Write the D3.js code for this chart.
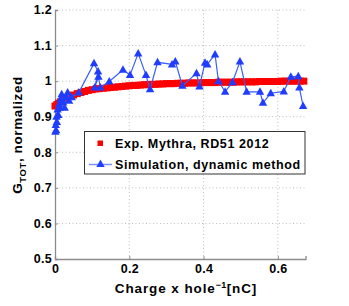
<!DOCTYPE html>
<html>
<head>
<meta charset="utf-8">
<script src="https://cdn.jsdelivr.net/npm/d3@7"></script>
<style>
  body { margin: 0; background: #fff; }
  text { font-family: "Liberation Sans", Arial, sans-serif; font-weight: bold; fill: #000; }
</style>
</head>
<body>
<div id="chart"></div>
<script>
let WIDTH = 349;
let HEIGHT = 306;

// experimental points (red squares)
const expX = [0, 0.005, 0.01, 0.015, 0.02, 0.025, 0.03, 0.04, 0.05, 0.06, 0.07, 0.08, 0.09,
  0.10, 0.11, 0.12, 0.13, 0.14, 0.15, 0.16, 0.17, 0.18, 0.19, 0.20, 0.21, 0.22, 0.23, 0.24,
  0.25, 0.26, 0.27, 0.28, 0.29, 0.30, 0.31, 0.32, 0.33, 0.34, 0.35, 0.36, 0.37, 0.38, 0.39,
  0.40, 0.41, 0.42, 0.43, 0.44, 0.45, 0.46, 0.47, 0.48, 0.49, 0.50, 0.51, 0.52, 0.53, 0.54,
  0.55, 0.56, 0.57, 0.58, 0.59, 0.60, 0.61, 0.62, 0.63, 0.64, 0.65, 0.66, 0.67];
const expY = [0.930, 0.934, 0.938, 0.942, 0.946, 0.949, 0.952, 0.957, 0.961, 0.965, 0.968, 0.971, 0.974,
  0.976, 0.978, 0.979, 0.980, 0.981, 0.982, 0.983, 0.984, 0.985, 0.986, 0.987, 0.988, 0.988, 0.989, 0.990,
  0.990, 0.991, 0.991, 0.992, 0.992, 0.993, 0.993, 0.993, 0.994, 0.994, 0.994, 0.995, 0.995, 0.995, 0.995,
  0.996, 0.996, 0.996, 0.996, 0.997, 0.997, 0.997, 0.997, 0.997, 0.998, 0.998, 0.998, 0.998, 0.998, 0.998,
  0.999, 0.999, 0.999, 0.999, 0.999, 0.999, 1.000, 1.000, 1.000, 1.000, 1.000, 1.000, 1.000];

// simulation (blue triangles)
const simX = [0.001, 0.002, 0.003, 0.004, 0.005, 0.007, 0.009, 0.011, 0.013, 0.015, 0.018, 0.022,
  0.026, 0.030, 0.034, 0.038, 0.045, 0.064, 0.105, 0.116, 0.107, 0.117, 0.122, 0.146, 0.183,
  0.202, 0.224, 0.245, 0.256, 0.276, 0.315, 0.324, 0.343, 0.381, 0.389, 0.404, 0.410, 0.431,
  0.440, 0.458, 0.478, 0.498, 0.516, 0.552, 0.560, 0.581, 0.616, 0.635, 0.655, 0.658, 0.668];
const simY = [0.858, 0.877, 0.862, 0.900, 0.885, 0.920, 0.905, 0.935, 0.925, 0.950, 0.963, 0.940,
  0.925, 0.955, 0.968, 0.945, 0.955, 0.968, 1.050, 1.027, 0.982, 1.012, 0.982, 0.999, 1.032,
  1.017, 1.078, 1.017, 0.977, 1.053, 1.047, 1.055, 0.987, 1.022, 0.985, 1.052, 1.047, 1.075,
  1.000, 0.970, 0.997, 1.055, 0.970, 0.970, 0.939, 0.966, 0.971, 1.012, 1.014, 0.982, 0.930];

const xTicks = [0, 0.2, 0.4, 0.6];
const yTicks = [0.5, 0.6, 0.7, 0.8, 0.9, 1, 1.1, 1.2];
const seriesNames = ['Exp. Mythra, RD51 2012', 'Simulation, dynamic method'];

const expData = expX.map((x, i) => ({x: x, y: expY[i]}));
const simData = simX.map((x, i) => ({x: x, y: simY[i]}));

const SVG = d3.select('#chart').append('svg')
        .attr('width', WIDTH).attr('height', HEIGHT);

const P_LEFT = 55, P_TOP = 10, P_RIGHT = 305.5, P_BOTTOM = 259;

const scale_x = d3.scaleLinear().domain([0, 0.6745]).range([P_LEFT, P_RIGHT]);
const scale_y = d3.scaleLinear().domain([0.5, 1.2]).range([P_BOTTOM, P_TOP]);

// GRID PUNTEADO
SVG.append('g').selectAll('line').data(yTicks.filter(d => d > 0.5)).join('line')
    .attr('x1', P_LEFT).attr('x2', P_RIGHT)
    .attr('y1', d => scale_y(d)).attr('y2', d => scale_y(d))
    .attr('stroke', '#bdbdbd').attr('stroke-width', 1).attr('stroke-dasharray', '1,2.5');
SVG.append('g').selectAll('line').data(xTicks.filter(d => d > 0)).join('line')
    .attr('y1', P_TOP).attr('y2', P_BOTTOM)
    .attr('x1', d => scale_x(d)).attr('x2', d => scale_x(d))
    .attr('stroke', '#bdbdbd').attr('stroke-width', 1).attr('stroke-dasharray', '1,2.5');

// EJES
let g_xaxis = SVG.append('g').attr('transform', `translate(0, ${P_BOTTOM})`)
    .call(d3.axisBottom(scale_x).tickValues(xTicks).tickSize(-3).tickPadding(6)
        .tickFormat(d => d === 0 ? '0' : d3.format('.1f')(d)));
let g_yaxis = SVG.append('g').attr('transform', `translate(${P_LEFT}, 0)`)
    .call(d3.axisLeft(scale_y).tickValues(yTicks).tickSize(-3).tickPadding(3)
        .tickFormat(d => d === 1 ? '1' : d3.format('.1f')(d)));

[g_xaxis, g_yaxis].forEach(g => {
    g.select('.domain').attr('stroke', '#8c8c8c').attr('stroke-width', 1.3);
    g.selectAll('.tick line').attr('stroke', '#8c8c8c');
    g.selectAll('.tick text').attr('font-size', 12.5).attr('font-weight', 'bold')
        .attr('letter-spacing', 0.3)
        .attr('font-family', '"Liberation Sans", Arial, sans-serif').attr('fill', '#000');
});
g_xaxis.selectAll('.tick text').attr('dy', '0.6em');
g_yaxis.selectAll('.tick text').attr('dy', '0.3em');

// DATOS EXPERIMENTALES
const sq = 7;
SVG.append('g').selectAll('rect').data(expData).join('rect')
    .attr('x', d => scale_x(d.x) - sq / 2).attr('y', d => scale_y(d.y) - sq / 2)
    .attr('width', sq).attr('height', sq).attr('fill', '#ff0000');

// SIMULACION
const line = d3.line().x(d => scale_x(d.x)).y(d => scale_y(d.y));
SVG.append('path').datum(simData).attr('d', line)
    .attr('fill', 'none').attr('stroke', '#3a5cff').attr('stroke-width', 1.2);

const tri = (cx, cy) => `M${cx},${cy - 4.5}L${cx + 4.2},${cy + 3}L${cx - 4.2},${cy + 3}Z`;
SVG.append('g').selectAll('path').data(simData).join('path')
    .attr('d', d => tri(scale_x(d.x), scale_y(d.y)))
    .attr('fill', '#1f3dff');

// LEYENDA
let g_legend = SVG.append('g');
g_legend.append('rect').attr('x', 84.5).attr('y', 131.5).attr('width', 220.5).attr('height', 42.5)
    .attr('fill', '#fff').attr('stroke', '#333').attr('stroke-width', 1);
g_legend.append('rect').attr('x', 97.5).attr('y', 140.5).attr('width', 5.5).attr('height', 5.5)
    .attr('fill', '#ff0000');
g_legend.append('line').attr('x1', 89).attr('x2', 112).attr('y1', 164.5).attr('y2', 164.5)
    .attr('stroke', '#7d8fff').attr('stroke-width', 1.5);
g_legend.append('path').attr('d', tri(100.5, 164)).attr('fill', '#1f3dff');
g_legend.selectAll('text.lg').data(seriesNames).join('text').attr('class', 'lg')
    .attr('x', 115).attr('y', (d, i) => 148 + i * 20.5)
    .attr('font-size', 12.5).attr('letter-spacing', 0.6).text(d => d);

// TITULOS DE EJES
let xl = SVG.append('text').attr('x', 186).attr('y', 293).attr('text-anchor', 'middle')
    .attr('font-size', 13.5).attr('letter-spacing', 0.9);
xl.append('tspan').text('Charge x hole');
xl.append('tspan').attr('dy', -5).attr('font-size', 9).attr('letter-spacing', 0.3).text('−1');
xl.append('tspan').attr('dy', 5).text('[nC]');

let yl = SVG.append('text').attr('transform', 'translate(22, 135) rotate(-90)')
    .attr('text-anchor', 'middle').attr('font-size', 13.5).attr('letter-spacing', 0.6);
yl.append('tspan').text('G');
yl.append('tspan').attr('dy', 4).attr('font-size', 9.5).text('TOT');
yl.append('tspan').attr('dy', -4).text(', normalized');
</script>
</body>
</html>
